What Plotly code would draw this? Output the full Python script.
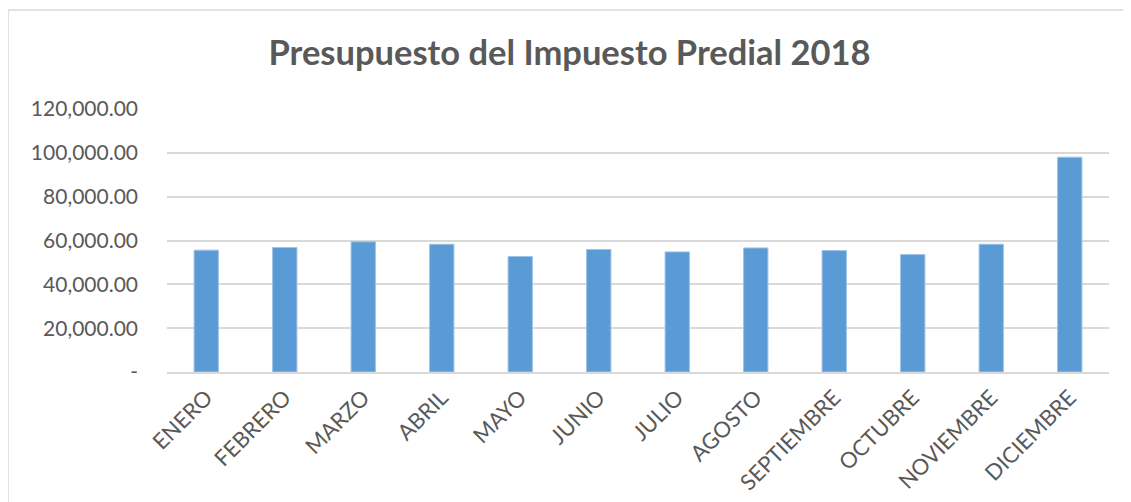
import plotly.graph_objects as go

months = ["ENERO", "FEBRERO", "MARZO", "ABRIL", "MAYO", "JUNIO", "JULIO",
          "AGOSTO", "SEPTIEMBRE", "OCTUBRE", "NOVIEMBRE", "DICIEMBRE"]
values = [55600, 56800, 59400, 58300, 52700, 55900, 54800,
          56600, 55400, 53600, 58300, 98000]
tick_vals = [0, 20000, 40000, 60000, 80000, 100000, 120000]
tick_text = ["-", "20,000.00", "40,000.00", "60,000.00", "80,000.00",
             "100,000.00", "120,000.00"]

OFF = 8  # page body margin
W, H = 1131 - OFF, 502 - OFF
L, R, T, B = 167 - OFF, 1109 - OFF, 109 - OFF, 372 - OFF

fig = go.Figure(go.Bar(x=months, y=values,
                       marker=dict(color="#5B9BD5", line=dict(color="#9DC3E6", width=1))))

pw, ph = R - L, B - T
fig.update_layout(
    width=W, height=H,
    margin=dict(l=L, r=W - R, t=T, b=H - B, autoexpand=False),
    paper_bgcolor="white", plot_bgcolor="white",
    bargap=0.69,
    showlegend=False,
    font=dict(family="Lato", color="#595959", size=21),
    title=dict(text="<b>Presupuesto del Impuesto Predial 2018</b>",
               x=0.5, xanchor="center", y=1 - (53 - OFF) / H, yanchor="middle",
               font=dict(family="Lato", size=34.5, color="#595959")),
    xaxis=dict(tickangle=-45, tickfont=dict(size=22, color="#595959"),
               showline=True, linecolor="#D9D9D9", linewidth=2,
               showgrid=False, ticks="", ticklabelstandoff=2, automargin=False),
    yaxis=dict(range=[0, 120000], tickvals=tick_vals, ticktext=tick_text,
               tickfont=dict(size=21, color="#595959"),
               showgrid=True, gridcolor="#D9D9D9", gridwidth=1.5,
               zeroline=False, showline=False, ticks="",
               ticklabelstandoff=28, automargin=False),
    shapes=[dict(type="rect", xref="paper", yref="paper",
                 x0=(0 - L) / pw, x1=(W + 20 - L) / pw,
                 y0=(B - (H + 20)) / ph, y1=(B - 2) / ph,
                 line=dict(color="#D9D9D9", width=1.5), fillcolor="rgba(0,0,0,0)",
                 layer="below")],
)

fig.write_html("out.html")
